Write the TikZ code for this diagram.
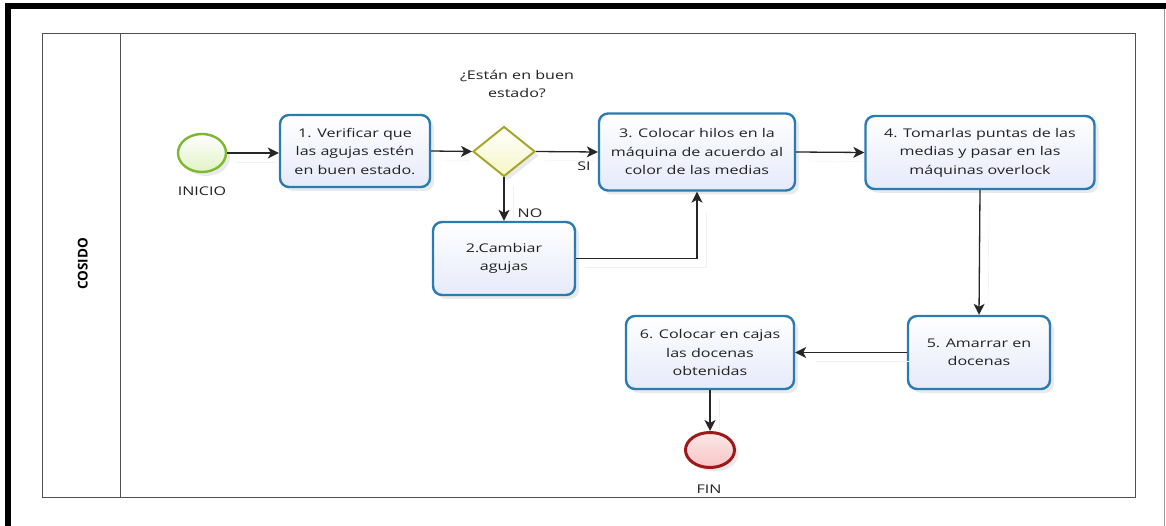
\documentclass[tikz,border=0pt]{standalone}
\usepackage{fontspec}
\setmainfont{Open Sans}[FakeStretch=1.34]
\newfontfamily\lanefont{Open Sans}
\usetikzlibrary{arrows.meta,shapes.geometric,shadows}
\definecolor{taskblue}{HTML}{2A7CB0}
\definecolor{taskfill}{HTML}{E6EAFA}
\definecolor{startgreen}{HTML}{7DB92E}
\definecolor{startfill}{HTML}{E2F2C6}
\definecolor{endred}{HTML}{9E1A1A}
\definecolor{endfill}{HTML}{F2C4C4}
\definecolor{gwline}{HTML}{A6A62A}
\definecolor{gwfill}{HTML}{F6F6C4}
\definecolor{txt}{HTML}{222222}
\definecolor{pool}{HTML}{505050}
\begin{document}
\begin{tikzpicture}[x=1pt,y=-1pt,
  softshadow/.style={drop shadow={opacity=0.16, shadow xshift=4pt, shadow yshift=-4pt}},
  task/.style={draw=taskblue, line width=2.4pt, rounded corners=9pt, top color=white, bottom color=taskfill,
    softshadow, align=center, text=txt, inner sep=0pt, font=\fontsize{12}{18.5}\selectfont},
  evstart/.style={ellipse, draw=startgreen, line width=2.4pt, top color=white, bottom color=startfill,
    softshadow, minimum width=48pt, minimum height=38pt, inner sep=0pt},
  evend/.style={ellipse, draw=endred, line width=3pt, top color=white!60!endfill, bottom color=endfill!80!red!60!white,
    softshadow, minimum width=49pt, minimum height=35pt, inner sep=0pt},
  gateway/.style={diamond, draw=gwline, line width=2pt, top color=white, bottom color=gwfill,
    softshadow, minimum width=62pt, minimum height=50pt, inner sep=0pt},
  flow/.style={draw=black!85, line width=1.3pt, -{Stealth[length=11pt,width=11pt,inset=3pt]},
    preaction={draw=black!6, arrows=-, shorten >=12pt, transform canvas={shift={(9pt,-9pt)}}}},
  lbl/.style={text=txt, font=\fontsize{12}{18.5}\selectfont, inner sep=0pt, align=center},
  poolline/.style={draw=pool, line width=1.5pt}
]
\useasboundingbox (0,0) rectangle (1166,526);
\fill[white] (0,0) rectangle (1166,526);
% outer frame
\draw[line width=6pt] (8,526) -- (8,6.3) -- (1166,6.3);
\draw[gray!80, line width=1pt] (1164.7,9) -- (1164.7,526);
% pool and lane
\draw[poolline] (42.7,33.3) rectangle (1135.3,497.7);
\draw[poolline] (120.7,33.3) -- (120.7,497.7);
\node[rotate=90, text=black, font=\lanefont\bfseries\fontsize{13.5}{16}\selectfont] (lane) at (82.7,264) {COSIDO};

% events and gateway
\node[evstart] (start) at (202,153) {};
\node[lbl] (startlbl) at (202,191) {INICIO};
\node[gateway] (gw) at (504,151.5) {};
\node[lbl] (q) at (517,84) {¿Están en buen\\estado?};
\node[evend] (end) at (710,450) {};
\node[lbl] (endlbl) at (709,489) {FIN};

% tasks
\node[task, minimum width=150pt, minimum height=72pt] (t1) at (355,151) {1. Verificar que\\las agujas estén\\en buen estado.};
\node[task, minimum width=142pt, minimum height=73pt] (t2) at (504,258.5) {2.Cambiar\\agujas};
\node[task, minimum width=196pt, minimum height=77pt] (t3) at (697,152) {3. Colocar hilos en la\\máquina de acuerdo al\\color de las medias};
\node[task, minimum width=229pt, minimum height=73pt] (t4) at (980,152.5) {4. Tomarlas puntas de las\\medias y pasar en las\\máquinas overlock};
\node[task, minimum width=142pt, minimum height=73pt] (t5) at (979,352.5) {5. Amarrar en\\docenas};
\node[task, minimum width=168pt, minimum height=73pt] (t6) at (710,352.5) {6. Colocar en cajas\\las docenas\\obtenidas};

% connectors
\draw[flow] (start.east) -- (start.east -| t1.west);
\draw[flow] (t1.east) -- (gw.west);
\draw[flow] (gw.east) -- (t3.west);
\draw[flow] (gw.south) -- (t2.north);
\draw[flow] (t2.east) -| (t3.south);
\draw[flow] (t3.east) -- (t4.west);
\draw[flow] (t4.south) -- (t5.north);
\draw[flow] (t5.west) -- (t6.east);
\draw[flow] (t6.south) -- (end.north);

% connector labels
\node[lbl] (si) at (584,166) {SI};
\node[lbl] (no) at (530,213) {NO};
\end{tikzpicture}
\end{document}
